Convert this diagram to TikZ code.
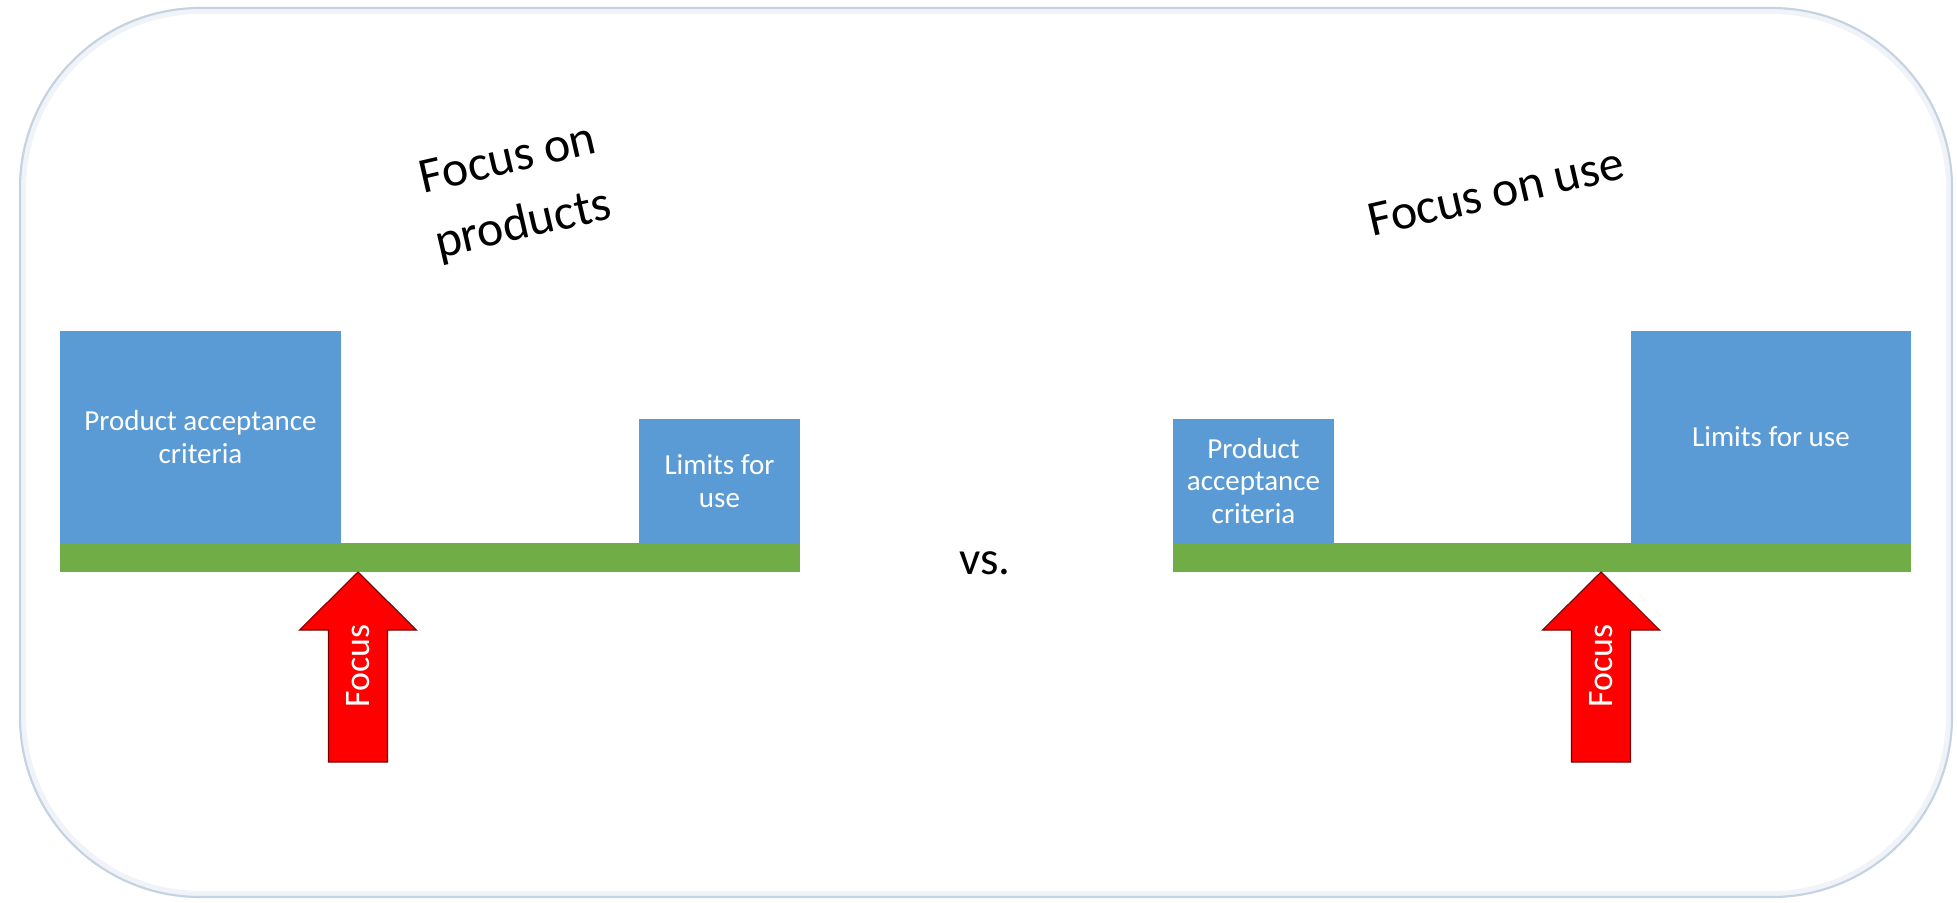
\documentclass[tikz,border=0pt]{standalone}
\usepackage{fontspec}
\setmainfont{Carlito}

\definecolor{boxblue}{RGB}{91,155,213}
\definecolor{bargreen}{RGB}{112,173,71}
\definecolor{framegray}{RGB}{196,210,226}
\definecolor{arrowred}{RGB}{255,0,0}

\tikzset{
  blockbox/.style={fill=boxblue, text=white, align=center, inner sep=0pt, font=\fontsize{8.25}{9.2}\selectfont},
  beam/.style={fill=bargreen, inner sep=0pt},
  focusarrow/.style={fill=arrowred, draw=red!45!black, line width=0.3pt, line join=miter},
  arrowlabel/.style={rotate=90, text=white, inner sep=0pt, font=\fontsize{10.2}{12}\selectfont},
  heading/.style={rotate=13, align=center, inner sep=0pt, font=\fontsize{14.2}{19}\selectfont}
}

\begin{document}
\begin{tikzpicture}[x=0.01cm, y=-0.01cm]

  \useasboundingbox (0, 0) rectangle (1957, 903);
  \draw[framegray!25, line width=2pt, rounded corners=1.78cm] (22.5, 10.5) rectangle (1949.5, 894.5);
  \draw[framegray, line width=0.6pt, rounded corners=1.8cm] (20, 8) rectangle (1952, 897);

  \node[heading] (headL) at (516, 194) {Focus on\\products};
  \node[heading] (headR) at (1496, 192) {Focus on use};
  \node[font=\fontsize{13.4}{16}\selectfont, inner sep=0pt] (versus) at (985, 563) {vs.};

  \node[beam, minimum width=7.40cm, minimum height=0.29cm] (barL) at (430, 557.5) {};
  \node[blockbox, minimum width=2.81cm, minimum height=2.12cm] (pacL) at (200.5, 437) {Product acceptance\\criteria};
  \node[blockbox, minimum width=1.61cm, minimum height=1.24cm] (limL) at (719.5, 481) {Limits for\\use};

  \node[beam, minimum width=7.38cm, minimum height=0.29cm] (barR) at (1542, 557.5) {};
  \node[blockbox, minimum width=1.61cm, minimum height=1.24cm] (pacR) at (1253.5, 481) {Product\\acceptance\\criteria};
  \node[blockbox, minimum width=2.80cm, minimum height=2.12cm] (limR) at (1771, 437) {Limits for use};

  \draw[focusarrow] (358, 572) -- (416.5, 630) -- (387.5, 630) -- (387.5, 762) -- (328.5, 762) -- (328.5, 630) -- (299.5, 630) -- cycle;
  \draw[focusarrow] (1601, 572) -- (1659.5, 630) -- (1630.5, 630) -- (1630.5, 762) -- (1571.5, 762) -- (1571.5, 630) -- (1542.5, 630) -- cycle;

  \node[arrowlabel] (focL) at (358, 666) {Focus};
  \node[arrowlabel] (focR) at (1601, 666) {Focus};
  \end{tikzpicture}
\end{document}
